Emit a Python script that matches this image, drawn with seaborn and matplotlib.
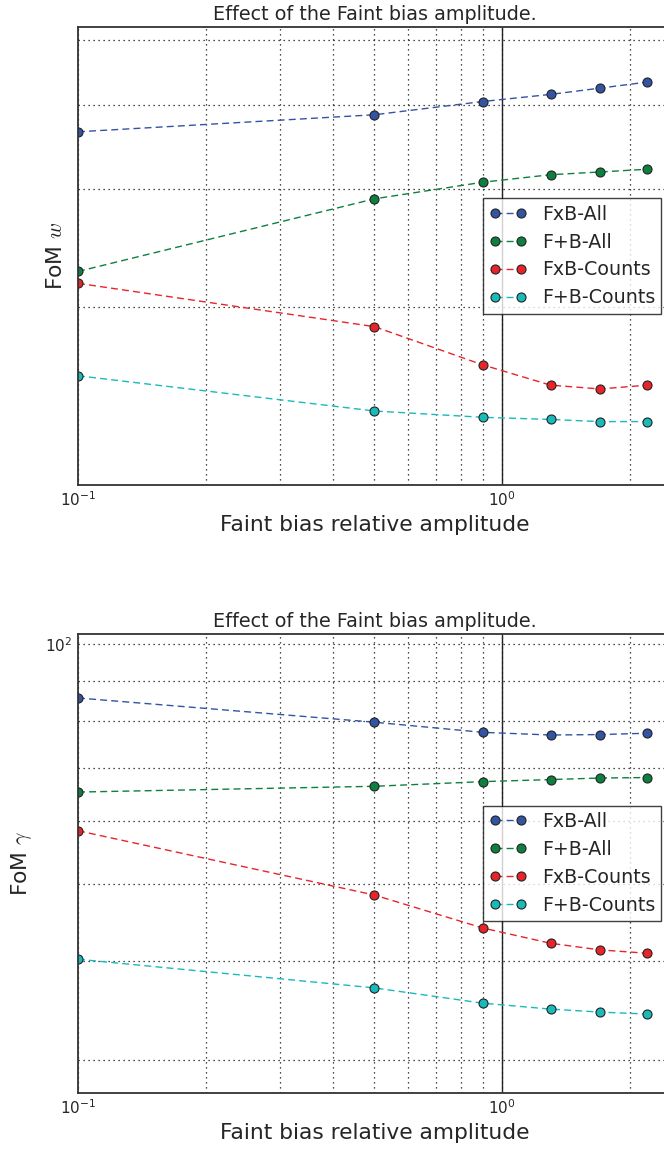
import numpy as np
import pandas as pd
import matplotlib
matplotlib.use("Agg")
import matplotlib.pyplot as plt
import seaborn as sns
from matplotlib.ticker import NullFormatter, LogLocator

# Faint bias relative amplitudes at which the forecasts were evaluated
amplitude = [0.1, 0.5, 0.9, 1.3, 1.7, 2.2]
reference_amplitude = 1.0

series_names = ["FxB-All", "F+B-All", "FxB-Counts", "F+B-Counts"]

# Figure of merit for w
fom_w_fxb_all = [36.5, 38.7, 40.5, 41.5, 42.4, 43.3]
fom_w_fpb_all = [22.6, 29.0, 30.7, 31.5, 31.8, 32.1]
fom_w_fxb_counts = [21.7, 18.7, 16.4, 15.3, 15.1, 15.3]
fom_w_fpb_counts = [15.8, 14.0, 13.7, 13.6, 13.5, 13.5]

# Figure of merit for gamma
fom_g_fxb_all = [85.6, 79.8, 77.5, 76.9, 77.0, 77.3]
fom_g_fpb_all = [65.2, 66.3, 67.2, 67.6, 67.9, 68.0]
fom_g_fxb_counts = [58.3, 48.4, 44.0, 42.1, 41.3, 40.9]
fom_g_fpb_counts = [40.2, 37.0, 35.4, 34.8, 34.5, 34.3]

colors = ["#3353a3", "#0d8040", "#e8242a", "#19baba"]

sns.set_theme(style="white")
plt.rcParams["font.family"] = ["DejaVu Sans"]
plt.rcParams["mathtext.fontset"] = "cm"
plt.rcParams["text.color"] = "#262626"
plt.rcParams["axes.labelcolor"] = "#262626"
plt.rcParams["xtick.color"] = "#262626"
plt.rcParams["ytick.color"] = "#262626"

fig = plt.figure(figsize=(6.64, 11.5), dpi=100)
W, H = 664.0, 1150.0
ax_w = fig.add_axes([78 / W, 1 - 485 / H, 593 / W, 458 / H])
ax_g = fig.add_axes([78 / W, 1 - 1093 / H, 593 / W, 459 / H])


def draw_panel(ax, values, ylabel, ylim, labelpad):
    for name, vals, col in zip(series_names, values, colors):
        df = pd.DataFrame({"amplitude": amplitude, "fom": vals})
        sns.lineplot(data=df, x="amplitude", y="fom", ax=ax, color=col,
                     marker="o", markersize=6.5, markeredgecolor="#222222",
                     markeredgewidth=0.8, linewidth=1.0,
                     linestyle=(0, (5, 3)), label=name)
    ax.axvline(reference_amplitude, color="#222222", linewidth=1.0, zorder=1)
    ax.set_xscale("log")
    ax.set_yscale("log")
    ax.set_xlim(0.1, 2.5)
    ax.set_ylim(*ylim)
    ax.yaxis.set_minor_locator(LogLocator(base=10, subs=np.arange(2, 10)))
    ax.xaxis.set_minor_locator(LogLocator(base=10, subs=np.arange(2, 10)))
    ax.xaxis.set_minor_formatter(NullFormatter())
    ax.yaxis.set_minor_formatter(NullFormatter())
    ax.grid(True, which="both", linestyle=(0, (1, 3)), color="#111111",
            linewidth=0.9)
    ax.tick_params(which="both", length=0, labelsize=11, pad=4)
    for s in ax.spines.values():
        s.set_color("#333333")
        s.set_linewidth(1.3)
    ax.set_title("Effect of the Faint bias amplitude.", fontsize=13.8, pad=5)
    ax.set_xlabel("Faint bias relative amplitude", fontsize=15.7, labelpad=4)
    ax.set_ylabel(ylabel, fontsize=15.7, labelpad=labelpad)
    leg = ax.legend(loc="center right", numpoints=2, fontsize=13.7,
                    frameon=True, fancybox=False, edgecolor="#111111",
                    handlelength=2.0, borderpad=0.32, labelspacing=0.47)
    leg.get_frame().set_linewidth(1.0)


draw_panel(ax_w, [fom_w_fxb_all, fom_w_fpb_all, fom_w_fxb_counts, fom_w_fpb_counts],
           "FoM $w$", (10.86, 52.3), 5)
draw_panel(ax_g, [fom_g_fxb_all, fom_g_fpb_all, fom_g_fxb_counts, fom_g_fpb_counts],
           r"FoM $\gamma$", (27.3, 103), 8)

fig.savefig("out.png", dpi=100)
